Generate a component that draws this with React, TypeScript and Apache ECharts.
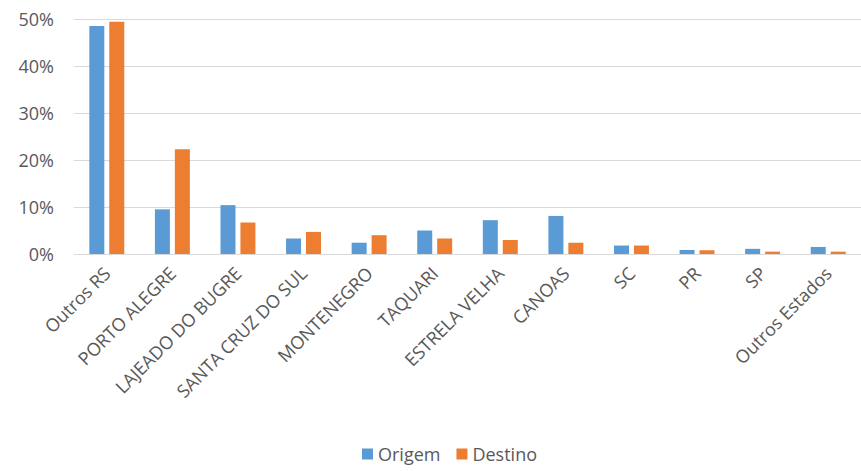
import React, { useEffect, useRef } from "react";
import * as echarts from "echarts";

const categories = [
  "Outros RS",
  "PORTO ALEGRE",
  "LAJEADO DO BUGRE",
  "SANTA CRUZ DO SUL",
  "MONTENEGRO",
  "TAQUARI",
  "ESTRELA VELHA",
  "CANOAS",
  "SC",
  "PR",
  "SP",
  "Outros Estados",
];
const origem = [48.5, 9.5, 10.4, 3.3, 2.4, 5.0, 7.2, 8.1, 1.8, 0.85, 1.1, 1.5];
const destino = [49.4, 22.3, 6.7, 4.7, 4.0, 3.3, 3.0, 2.4, 1.8, 0.8, 0.5, 0.5];
const yTicks = [0, 10, 20, 30, 40, 50];

export default function App() {
  const ref = useRef<HTMLDivElement>(null);
  useEffect(() => {
    if (!ref.current) return;
    const chart = echarts.init(ref.current, undefined, { renderer: "svg" });
    const font = "'Open Sans', 'Noto Sans', sans-serif";
    chart.setOption({
      animation: false,
      backgroundColor: "#ffffff",
      grid: { left: 74, top: 19, width: 798, height: 235, containLabel: false },
      legend: {
        bottom: 3,
        left: 357,
        itemWidth: 11,
        itemHeight: 11,
        itemGap: 16,
        icon: "rect",
        textStyle: { color: "#595959", fontSize: 18, fontFamily: font },
        data: ["Origem", "Destino"],
      },
      xAxis: {
        type: "category",
        data: categories,
        axisLine: { show: true, lineStyle: { color: "#d9d9d9", width: 1 } },
        axisTick: { show: false },
        axisLabel: {
          rotate: 45,
          interval: 0,
          margin: 16,
          color: "#595959",
          fontSize: 18,
          fontFamily: font,
        },
      },
      yAxis: {
        type: "value",
        min: yTicks[0],
        max: yTicks[yTicks.length - 1],
        interval: 10,
        axisLine: { show: false },
        axisTick: { show: false },
        splitLine: { lineStyle: { color: "#d9d9d9", width: 1 } },
        axisLabel: {
          formatter: "{value}%",
          margin: 20,
          color: "#595959",
          fontSize: 18,
          fontFamily: font,
        },
      },
      series: [
        {
          name: "Origem",
          type: "bar",
          data: origem,
          barWidth: 15,
          barGap: "33%",
          itemStyle: { color: "#5B9BD5" },
        },
        {
          name: "Destino",
          type: "bar",
          data: destino,
          barWidth: 15,
          itemStyle: { color: "#ED7D31" },
        },
      ],
    });
    return () => chart.dispose();
  }, []);
  return (
    <div
      ref={ref}
      style={{ position: "fixed", left: 0, top: 0, width: 861, height: 471, overflow: "hidden" }}
    />
  );
}
